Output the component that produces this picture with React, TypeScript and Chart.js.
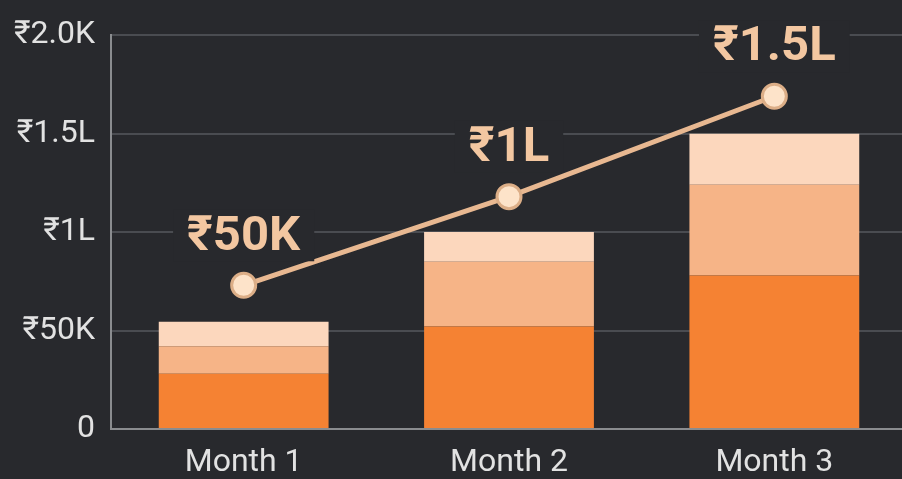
import React, { useEffect, useRef } from "react";
import { Chart, registerables } from "chart.js";

Chart.register(...registerables);

const categories = ["Month 1", "Month 2", "Month 3"];
const baseValues = [28000, 52000, 78000];
const midValues = [14000, 33000, 46000];
const topValues = [12500, 15000, 26000];
const lineValues = [73000, 118000, 169000];
const lineLabels = ["₹50K", "₹1L", "₹1.5L"];
const yTickValues = [0, 50000, 100000, 150000, 200000];
const yTickLabels = ["0", "₹50K", "₹1L", "₹1.5L", "₹2.0K"];

const BG = "#28292d";
const FONT = "Roboto, 'Noto Sans', 'DejaVu Sans', sans-serif";

const labelPlugin = {
  id: "pointLabels",
  afterDatasetsDraw(chart: any) {
    const meta = chart.getDatasetMeta(3);
    const ctx = chart.ctx;
    ctx.save();
    ctx.font = `bold 49px ${FONT}`;
    ctx.textAlign = "center";
    ctx.textBaseline = "middle";
    meta.data.forEach((pt: any, i: number) => {
      const text = lineLabels[i];
      const x = pt.x;
      const y = pt.y - 50;
      const w = ctx.measureText(text).width;
      ctx.fillStyle = BG;
      ctx.fillRect(x - w / 2 - 14, y - 26, w + 28, 52);
      ctx.fillStyle = "#f3c7a1";
      ctx.fillText(text, x, y + 2);
    });
    ctx.restore();
  },
};

export default function App() {
  const ref = useRef<HTMLCanvasElement>(null);
  useEffect(() => {
    document.body.style.margin = "0";
    document.body.style.background = BG;
    const chart = new Chart(ref.current!, {
      type: "bar",
      data: {
        labels: categories,
        datasets: [
          { type: "bar", data: baseValues, backgroundColor: "#f58233", stack: "s", order: 1 },
          { type: "bar", data: midValues, backgroundColor: "#f6b487", stack: "s", order: 1 },
          { type: "bar", data: topValues, backgroundColor: "#fcd7bd", stack: "s", order: 1 },
          {
            type: "line",
            data: lineValues,
            stack: "line",
            order: 0,
            borderColor: "#e8b891",
            borderWidth: 5,
            pointRadius: 12,
            pointBackgroundColor: "#fde3c9",
            pointBorderColor: "#dcae87",
            pointBorderWidth: 3,
            tension: 0,
          } as any,
        ],
      },
      options: {
        responsive: false,
        animation: false,
        layout: { autoPadding: false, padding: { top: 34, left: 0, right: 0, bottom: 0 } },
        plugins: { legend: { display: false }, tooltip: { enabled: false } },
        datasets: { bar: { categoryPercentage: 1, barPercentage: 0.64 } } as any,
        scales: {
          x: {
            stacked: true,
            grid: { display: false },
            border: { display: true, color: "#8a8c8f", width: 2 },
            ticks: { color: "#e2e2e2", font: { size: 32, family: FONT }, padding: 7 },
            afterFit(scale: any) {
              scale.height = 50;
            },
          },
          y: {
            stacked: true,
            min: 0,
            max: 200000,
            afterBuildTicks(scale: any) {
              scale.ticks = yTickValues.map((v) => ({ value: v }));
            },
            grid: { color: "#4a4c51", lineWidth: 2, drawTicks: false },
            border: { display: true, color: "#8a8c8f", width: 2 },
            ticks: {
              color: "#e2e2e2",
              font: { size: 32, family: FONT },
              padding: 16,
              callback: (v: any) => {
                const i = yTickValues.indexOf(Number(v));
                return i >= 0 ? yTickLabels[i] : "";
              },
            },
            afterFit(scale: any) {
              scale.width = 111;
            },
          },
        },
      },
      plugins: [labelPlugin],
    });
    return () => chart.destroy();
  }, []);
  return (
    <div style={{ width: 902, height: 479, overflow: "hidden", background: BG }}>
      <canvas ref={ref} width={907} height={479} style={{ display: "block" }} />
    </div>
  );
}
